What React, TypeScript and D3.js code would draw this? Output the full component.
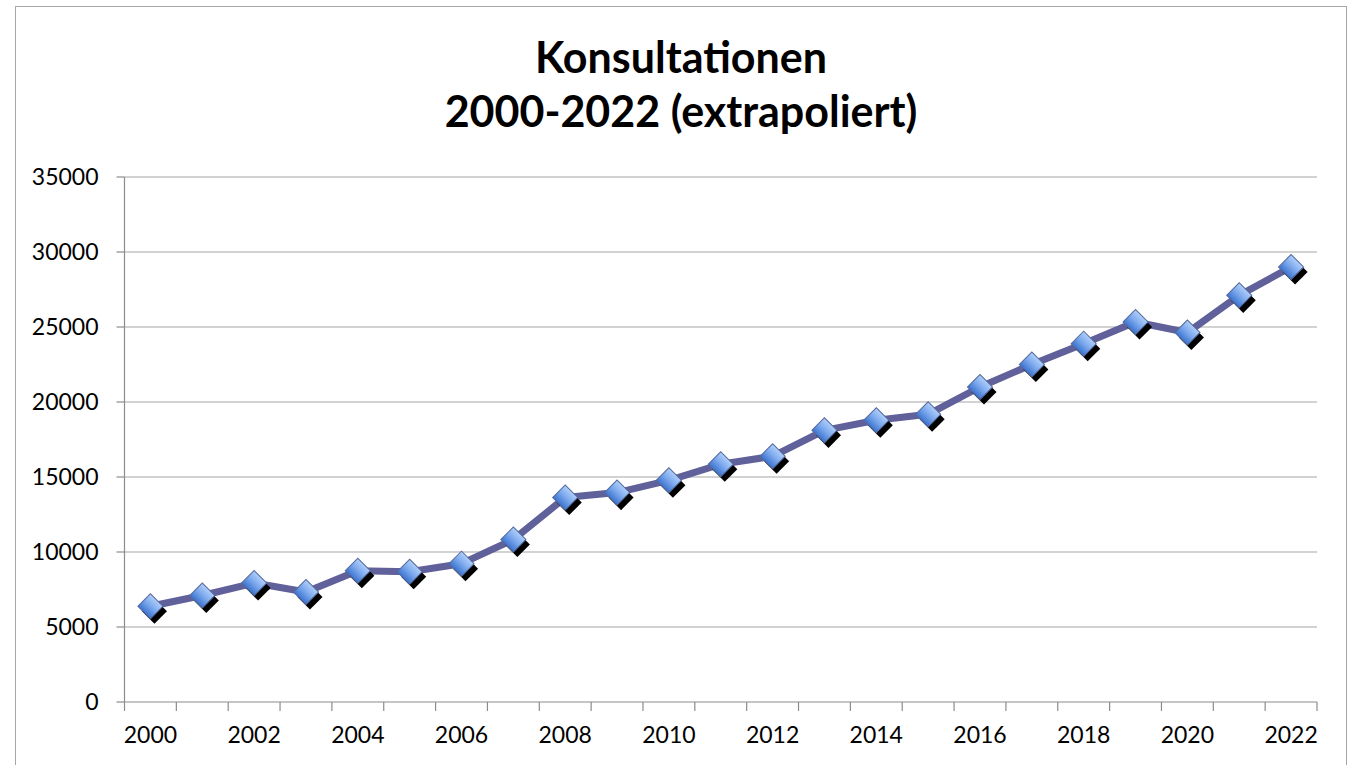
import * as d3 from 'd3';

const years = d3.range(2000, 2023).map(String);
const consultations = [
  6380, 7100, 7930, 7330, 8750, 8680, 9220, 10830, 13630, 13960, 14780, 15850,
  16380, 18110, 18780, 19180, 21000, 22500, 23890, 25330, 24630, 27110, 29000,
];
const yTicks = [0, 5000, 10000, 15000, 20000, 25000, 30000, 35000];
const titleLines = ['Konsultationen', '2000-2022 (extrapoliert)'];

const W = 1352;
const H = 765;
const margin = { top: 177, right: 35, bottom: 63, left: 124.5 };

const App = () => {
  const innerW = W - margin.left - margin.right;
  const innerH = H - margin.top - margin.bottom;

  const x = d3.scaleBand().domain(years).range([0, innerW]);
  const y = d3.scaleLinear().domain([0, 35000]).range([innerH, 0]);

  const cx = (yr: string) => (x(yr) ?? 0) + x.bandwidth() / 2;

  const line = d3
    .line<number>()
    .x((_, i) => cx(years[i]))
    .y(d => y(d));

  const diamond = d3.symbol(d3.symbolSquare, 315)();

  return (
    <svg
      width={W}
      height={H}
      style={{ position: 'absolute', left: 0, top: 0, fontFamily: 'Lato, "Open Sans", sans-serif' }}
    >
      <defs>
        <linearGradient id="mk" x1="0" y1="0" x2="0" y2="1" gradientUnits="objectBoundingBox">
          <stop offset="0%" stopColor="#b0cffb" />
          <stop offset="50%" stopColor="#7aa7ec" />
          <stop offset="100%" stopColor="#3a72cf" />
        </linearGradient>
      </defs>
      <rect x={15.5} y={6.5} width={1331} height={H} fill="#fff" stroke="#a6a6a6" />

      {titleLines.map((t, i) => (
        <text
          key={t}
          x={681}
          y={73 + i * 54}
          textAnchor="middle"
          fontSize={43}
          fontWeight="bold"
          fill="#000"
        >
          {t}
        </text>
      ))}

      <g transform={`translate(${margin.left},${margin.top})`}>
        {yTicks.map(t => (
          <g key={t} transform={`translate(0,${y(t)})`}>
            {t > 0 && <line x1={0} x2={innerW} stroke="#a6a6a6" strokeWidth={1.2} />}
            <line x1={-8} x2={0} stroke="#8c8c8c" strokeWidth={1.2} />
            <text x={-26} dy="0.36em" textAnchor="end" fontSize={23} fill="#000">
              {t}
            </text>
          </g>
        ))}
        <line x1={0} x2={0} y1={0} y2={innerH} stroke="#8c8c8c" strokeWidth={1.2} />
        <line x1={0} x2={innerW} y1={innerH} y2={innerH} stroke="#8c8c8c" strokeWidth={1.2} />
        {years.map(yr => (
          <line
            key={yr}
            x1={x(yr)}
            x2={x(yr)}
            y1={innerH}
            y2={innerH + 9}
            stroke="#8c8c8c"
            strokeWidth={1.2}
          />
        ))}
        <line x1={innerW} x2={innerW} y1={innerH} y2={innerH + 9} stroke="#8c8c8c" strokeWidth={1.2} />
        {years.map((yr, i) =>
          i % 2 === 0 ? (
            <text key={yr} x={cx(yr)} y={innerH + 41} textAnchor="middle" fontSize={23} fill="#000">
              {yr}
            </text>
          ) : null
        )}

        <path
          d={line(consultations) ?? ''}
          fill="none"
          stroke="#60609a"
          strokeWidth={7}
          strokeLinejoin="round"
        />
        {consultations.map((v, i) => (
          <g key={years[i]} transform={`translate(${cx(years[i])},${y(v)})`}>
            <path d={diamond ?? ''} transform="translate(4,5) rotate(45)" fill="#000" />
            <path
              d={diamond ?? ''}
              transform="rotate(45)"
              fill="url(#mk)"
              stroke="#566a9c"
              strokeWidth={1}
            />
          </g>
        ))}
      </g>
    </svg>
  );
};

export default App;
